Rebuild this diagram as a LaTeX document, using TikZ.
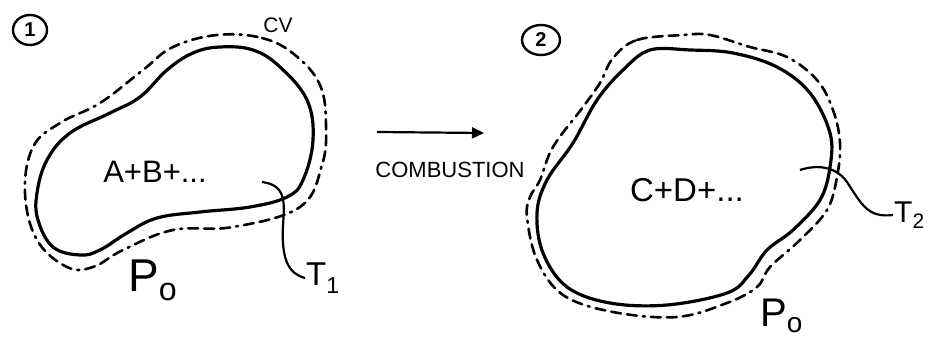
\documentclass[tikz,border=0pt]{standalone}
\usepackage{fontspec}
\setmainfont{Liberation Sans}
\usetikzlibrary{arrows.meta, shapes.geometric}

\begin{document}
\begin{tikzpicture}[x=1pt, y=-1pt,
  wall/.style={line width=3.2pt, line join=round},
  cvline/.style={line width=2.6pt, line cap=round,
                 dash pattern=on 10pt off 6pt on 10pt off 6pt on 10pt off 6pt on 2pt off 6pt},
  leader/.style={line width=2.2pt},
  stateno/.style={draw, ellipse, line width=2.4pt, inner sep=0pt,
                  minimum width=34pt, minimum height=30pt,
                  font=\fontsize{20}{20}\selectfont\bfseries},
  tag/.style={inner sep=1pt, font=\fontsize{#1}{#1}\selectfont},
]
\useasboundingbox (0,0) rectangle (932,337);

% state 1
\node[stateno] (s1) at (30,30) {1};
\node[tag=21] (cv) at (278,25) {CV};
\draw[wall] plot[smooth cycle, tension=0.65] coordinates {
  (220,47) (253,50) (280,67) (307,100) (313,140) (303,180) (287,197)
  (250,207) (200,212) (157,218) (127,233) (100,250) (80,255) (53,247)
  (38,220) (37,193) (47,160) (70,133) (110,113) (140,97) (167,70) (193,53)};
\draw[cvline] plot[smooth cycle, tension=0.65] coordinates {
  (217,35) (262,38) (295,55) (320,85) (326,125) (322,165) (300,207)
  (233,227) (173,230) (123,250) (93,267) (67,267) (37,240)
  (25,193) (33,147) (60,123) (100,103) (143,70) (173,47)};
\node[tag=31] (mix1) at (155,172) {A+B+...};
\node[tag=46, anchor=south west] (p1) at (127,302) {P\textsubscript{o}};
\node[tag=33, anchor=west] (T1) at (305,278) {T\textsubscript{1}};
\coordinate (t1a) at (262,182);
\draw[leader] (t1a) .. controls (285,185) and (285,200) .. (283,225)
  .. controls (281,262) and (290,274) .. (T1.west);

% process arrow
\coordinate (arrA) at (377,132);
\coordinate (arrB) at (484,133);
\draw[line width=2.2pt, -{Triangle[length=12pt, width=11pt]}] (arrA) -- (arrB);
\node[tag=22] (comb) at (450,170) {COMBUSTION};

% state 2
\node[stateno, minimum width=38pt] (s2) at (541,40) {2};
\draw[wall] plot[smooth cycle, tension=0.6] coordinates {
  (597,100) (623,70) (650,50) (690,50) (733,53) (777,67) (810,93)
  (830,133) (830,167) (820,200) (793,230) (767,250) (749,275) (727,293)
  (667,305) (610,303) (567,287) (543,253) (537,213) (547,180) (573,143)};
\draw[cvline] plot[smooth cycle, tension=0.6] coordinates {
  (613,58) (637,40) (683,35) (710,35) (750,47) (787,57) (817,80)
  (833,110) (840,143) (837,177) (827,210) (800,240) (770,267) (757,287)
  (727,303) (677,317) (613,312) (563,295) (537,260) (527,217)
  (530,197) (540,180) (553,147) (583,107) (600,83)};
\node[tag=33] (mix2) at (687,190) {C+D+...};
\node[tag=40, anchor=base west] (p2) at (759,326) {P\textsubscript{o}};
\node[tag=30, anchor=west] (T2) at (893,215) {T\textsubscript{2}};
\coordinate (t2a) at (800,170);
\draw[leader] (t2a) .. controls (815,165) and (835,165) .. (847,182)
  .. controls (862,205) and (868,218) .. (T2.west);
\end{tikzpicture}
\end{document}
